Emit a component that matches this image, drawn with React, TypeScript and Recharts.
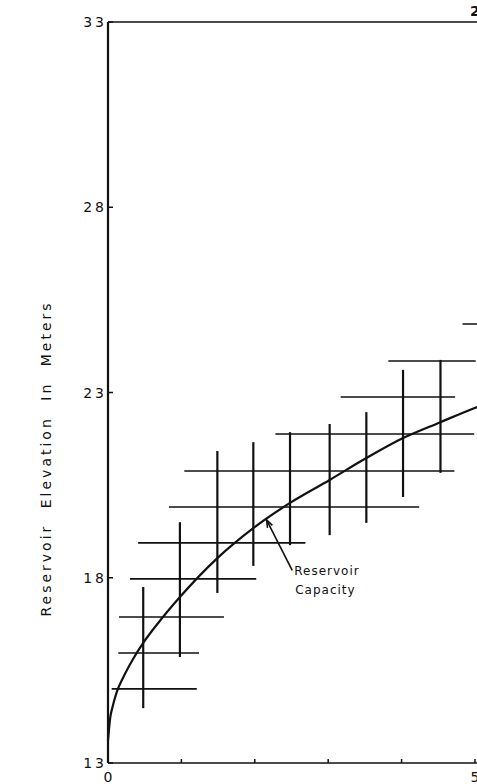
import {
  ComposedChart,
  Line,
  ReferenceDot,
  ReferenceLine,
  XAxis,
  YAxis,
} from 'recharts';

// reservoir capacity curve
const curveX = [0, 0.03, 0.06, 0.12, 0.2, 0.34, 0.48, 0.7, 0.98, 1.49, 1.98, 2.48, 3.02, 3.52, 4.02, 4.53, 5.03, 5.6];
const curveY = [13.6, 14.22, 14.5, 14.92, 15.28, 15.8, 16.24, 16.82, 17.48, 18.53, 19.34, 20.02, 20.64, 21.23, 21.77, 22.2, 22.61, 23.02];

// horizontal bars: level, from, to
const hLevel = [15.0, 15.97, 16.94, 17.97, 18.94, 19.91, 20.88, 21.88, 22.88, 23.85, 24.85];
const hFrom = [0.05, 0.14, 0.15, 0.3, 0.41, 0.83, 1.04, 2.28, 3.17, 3.82, 4.83];
const hTo = [1.21, 1.24, 1.58, 2.02, 2.69, 4.24, 4.72, 4.99, 4.73, 5.01, 5.6];

// vertical bars: position, low, high
const vPos = [0.48, 0.98, 1.49, 1.98, 2.48, 3.02, 3.52, 4.02, 4.53];
const vLow = [14.48, 15.86, 17.59, 18.32, 18.88, 19.15, 19.48, 20.18, 20.83];
const vHigh = [17.75, 19.5, 21.42, 21.66, 21.93, 22.15, 22.47, 23.61, 23.88];

const xTicks = [0, 1, 2, 3, 4, 5];
const xTickLabels = ['0', '', '', '', '', '5'];
const yTicks = [13, 18, 23, 28, 33];
const topMark = { x: 5, y: 33, text: '2' };

const arrowFrom = { x: 2.16, y: 19.56 };
const arrowTo = { x: 2.51, y: 18.2 };

const curve = curveX.map((x, i) => ({ x, y: curveY[i] }));

const ink = '#111';
const font = '"DejaVu Sans", sans-serif';

const YTick = (props: any) => {
  const { x, y, payload } = props;
  return (
    <g>
      <line x1={x} y1={y} x2={x + 5} y2={y} stroke={ink} strokeWidth={1.5} />
      <text x={x - 1} y={y} dy="0.36em" textAnchor="end" fontSize={14} letterSpacing={3} fill={ink} fontFamily={font}>
        {payload.value}
      </text>
    </g>
  );
};

const XTick = (props: any) => {
  const { x, y, index } = props;
  return (
    <g>
      <line x1={x} y1={y} x2={x} y2={y - 4} stroke={ink} strokeWidth={1.5} />
      <text x={x} y={y + 19} textAnchor="middle" fontSize={14} fill={ink} fontFamily={font}>
        {xTickLabels[index] ?? ''}
      </text>
    </g>
  );
};

const TopLabel = (props: any) => {
  const vb = props.viewBox;
  return (
    <text x={vb.x} y={vb.y - 6} textAnchor="middle" fontSize={14} fontWeight="bold" fill={ink} fontFamily={font}>
      {topMark.text}
    </text>
  );
};

const YLabel = (props: any) => {
  const vb = props.viewBox;
  const cx = vb.x + 46;
  const cy = vb.y + vb.height / 2 + 66;
  return (
    <text
      x={cx}
      y={cy}
      transform={`rotate(-90 ${cx} ${cy})`}
      textAnchor="middle"
      dominantBaseline="central"
      fontSize={14}
      letterSpacing={3}
      wordSpacing={8}
      fill={ink}
      fontFamily={font}
    >
      Reservoir Elevation In Meters
    </text>
  );
};

const CapacityLabel = (props: any) => {
  const vb = props.viewBox;
  return (
    <g fontFamily={font} fontSize={12} letterSpacing={1} fill={ink}>
      <text x={vb.x + 2} y={vb.y + 5}>Reservoir</text>
      <text x={vb.x + 3} y={vb.y + 24}>Capacity</text>
    </g>
  );
};

const Arrow = (props: any) => {
  const { x1, y1, x2, y2 } = props;
  const a = Math.atan2(y2 - y1, x2 - x1);
  const h = 8;
  const s = 0.35;
  return (
    <g stroke={ink} strokeWidth={1.6} fill="none">
      <line x1={x1} y1={y1} x2={x2} y2={y2} />
      <polyline
        points={`${x1 + h * Math.cos(a - s)},${y1 + h * Math.sin(a - s)} ${x1},${y1} ${x1 + h * Math.cos(a + s)},${y1 + h * Math.sin(a + s)}`}
      />
    </g>
  );
};

export default function App() {
  return (
    <div style={{ position: 'absolute', left: 0, top: 0, width: 477, height: 784, overflow: 'hidden', background: '#fff' }}>
      <ComposedChart width={519} height={784} margin={{ top: 0, right: 0, bottom: 0, left: 0 }}>
        <XAxis
          xAxisId="top"
          orientation="top"
          type="number"
          dataKey="x"
          domain={[0, 5.6]}
          height={22}
          tick={false}
          tickLine={false}
          axisLine={{ stroke: ink, strokeWidth: 1.5 }}
        />
        <XAxis
          type="number"
          dataKey="x"
          domain={[0, 5.6]}
          ticks={xTicks}
          height={21}
          tickSize={0}
          tickMargin={0}
          tickLine={false}
          tick={<XTick />}
          axisLine={{ stroke: ink, strokeWidth: 1.5 }}
          interval={0}
        />
        <YAxis
          type="number"
          domain={[13, 33]}
          ticks={yTicks}
          width={108}
          tickSize={0}
          tickMargin={0}
          tickLine={false}
          tick={<YTick />}
          axisLine={{ stroke: ink, strokeWidth: 2.2 }}
          interval={0}
          label={<YLabel />}
        />
        {hLevel.map((lv, i) => (
          <ReferenceLine
            key={`h${i}`}
            segment={[
              { x: hFrom[i], y: lv },
              { x: hTo[i], y: lv },
            ]}
            stroke={ink}
            strokeWidth={1.6}
            ifOverflow="visible"
          />
        ))}
        {vPos.map((p, i) => (
          <ReferenceLine
            key={`v${i}`}
            segment={[
              { x: p, y: vLow[i] },
              { x: p, y: vHigh[i] },
            ]}
            stroke={ink}
            strokeWidth={2.2}
            ifOverflow="visible"
          />
        ))}
        <Line
          data={curve}
          dataKey="y"
          type="monotone"
          stroke={ink}
          strokeWidth={2.2}
          dot={false}
          activeDot={false}
          isAnimationActive={false}
        />
        <ReferenceLine segment={[arrowFrom, arrowTo]} shape={<Arrow />} ifOverflow="visible" />
        <ReferenceDot x={arrowTo.x} y={arrowTo.y} r={0} fill="none" stroke="none" ifOverflow="visible" label={<CapacityLabel />} />
        <ReferenceDot x={topMark.x} y={topMark.y} r={0} fill="none" stroke="none" ifOverflow="visible" label={<TopLabel />} />
      </ComposedChart>
    </div>
  );
}
